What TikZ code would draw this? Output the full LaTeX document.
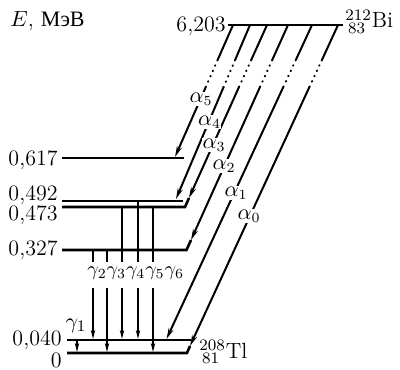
\documentclass[tikz,border=0pt]{standalone}
\usepackage{fontspec}
\newfontfamily\cyrfont{Liberation Serif}
\usetikzlibrary{arrows.meta}
\begin{document}
\begin{tikzpicture}[x=0.5pt,y=-0.5pt,
  lvl/.style={line width=1.3pt},
  aline/.style={line width=1pt},
  adot/.style={line width=1pt, line cap=round, dash pattern=on 0.3pt off 2.6pt},
  aarr/.style={line width=1pt,-{Stealth[length=5.5pt,width=2.6pt]}},
  gline/.style={line width=0.75pt},
  garr/.style={line width=0.75pt,-{Stealth[length=4.5pt,width=2.2pt]}},
  lab/.style={inner sep=0pt, font=\fontsize{11}{13}\selectfont},
  alab/.style={fill=white, inner sep=0.2pt, font=\fontsize{10.5}{12}\selectfont}]
\useasboundingbox (0,0) rectangle (400,369);

% level coordinates
\coordinate (t1) at (228,25);   \coordinate (t2) at (343,25);
\coordinate (l617a) at (62,158); \coordinate (l617b) at (184,158);
\coordinate (l492a) at (62,201); \coordinate (l492b) at (183,201);
\coordinate (l473a) at (62,207); \coordinate (l473b) at (185,207);
\coordinate (l327a) at (62,250); \coordinate (l327b) at (186.5,250);
\coordinate (l040a) at (67,340); \coordinate (l040b) at (191,340);
\coordinate (l0a) at (67,353);   \coordinate (l0b) at (187,353);

% alpha line coordinates
\coordinate (a5t) at (233,25); \coordinate (a5d) at (217.6,60); \coordinate (a5e) at (205.8,87); \coordinate (a5b) at (175,157);
\coordinate (a4t) at (250,25); \coordinate (a4d) at (235.1,60); \coordinate (a4e) at (223.6,87); \coordinate (a4b) at (176,199);
\coordinate (a3t) at (267,25); \coordinate (a3d) at (251.2,60); \coordinate (a3e) at (239.0,87); \coordinate (a3b) at (189,198);
\coordinate (a2t) at (288,25); \coordinate (a2d) at (272.2,60); \coordinate (a2e) at (260.0,87); \coordinate (a2b) at (191,240);
\coordinate (a1t) at (312,25); \coordinate (a1d) at (295.8,60); \coordinate (a1e) at (283.3,87); \coordinate (a1b) at (166.5,339);
\coordinate (a0t) at (338,25); \coordinate (a0d) at (321.9,60); \coordinate (a0e) at (309.4,87); \coordinate (a0b) at (190,346);

% alpha transitions
\foreach \n in {5,4,3,2,1,0}{
  \draw[aline] (a\n t) -- (a\n d);
  \draw[adot] (a\n d) -- (a\n e);
  \draw[aarr] (a\n e) -- (a\n b);
}

% levels
\draw[lvl] (t1) -- (t2);
\draw[lvl] (l617a) -- (l617b);
\draw[lvl] (l492a) -- (l492b);
\draw[lvl] (l473a) -- (l473b) -- (a3b);
\draw[lvl] (l327a) -- (l327b) -- (a2b);
\draw[lvl] (l040a) -- (l040b);
\draw[lvl] (l0a) -- (l0b) -- (a0b);

% alpha labels
\node[alab] (la5) at (201,99) {$\alpha_5$};
\node[alab] (la4) at (209.5,122) {$\alpha_4$};
\node[alab] (la3) at (214,145) {$\alpha_3$};
\node[alab] (la2) at (224,166) {$\alpha_2$};
\node[alab] (la1) at (236,193) {$\alpha_1$};
\node[alab] (la0) at (249,216) {$\alpha_0$};

% gamma coordinates
\coordinate (g2a) at (93,250);  \coordinate (g2b) at (93,262);  \coordinate (g2c) at (93,288);  \coordinate (g2d) at (93,339);
\coordinate (g3a) at (107,250); \coordinate (g3b) at (107,262); \coordinate (g3c) at (107,288); \coordinate (g3d) at (107,352);
\coordinate (g4a) at (122,207); \coordinate (g4b) at (122,262); \coordinate (g4c) at (122,288); \coordinate (g4d) at (122,339);
\coordinate (g5a) at (138,201); \coordinate (g5b) at (138,262); \coordinate (g5c) at (138,288); \coordinate (g5d) at (138,339);
\coordinate (g6a) at (153,207); \coordinate (g6b) at (153,262); \coordinate (g6c) at (153,288); \coordinate (g6d) at (153,352);
\foreach \n in {2,...,6}{
  \draw[gline] (g\n a) -- (g\n b);
  \draw[garr] (g\n c) -- (g\n d);
}
\coordinate (g1a) at (77,341); \coordinate (g1b) at (77,352);
\draw[garr] (g1a) -- (g1b);

% gamma labels
\node[inner sep=0pt, anchor=base west, font=\fontsize{9.6}{11}\selectfont] (lg26) at (87,275)
  {$\gamma_2\gamma_3\gamma_4\gamma_5\gamma_6$};
\node[lab] (lg1) at (76,326) {$\gamma_1$};

% energy labels
\node[lab, anchor=base west] (eunit) at (10,27) {$E$, {\cyrfont МэВ}};
\node[lab, anchor=base east] (e6203) at (226,32) {6,203};
\node[lab, anchor=base east] (e617) at (58,165) {0,617};
\node[lab, anchor=base east] (e492) at (58,200) {0,492};
\node[lab, anchor=base east] (e473) at (58,220) {0,473};
\node[lab, anchor=base east] (e327) at (58,255) {0,327};
\node[lab, anchor=base east] (e040) at (62,345.5) {0,040};
\node[lab, anchor=base east] (e0) at (62,367.5) {0};

% nuclides
\node[lab, anchor=base west] (bi) at (345,28) {${}^{212}_{\,83}\mathrm{Bi}$};
\node[lab, anchor=base west] (tl) at (199,358) {${}^{208}_{\,81}\mathrm{Tl}$};
\end{tikzpicture}
\end{document}
